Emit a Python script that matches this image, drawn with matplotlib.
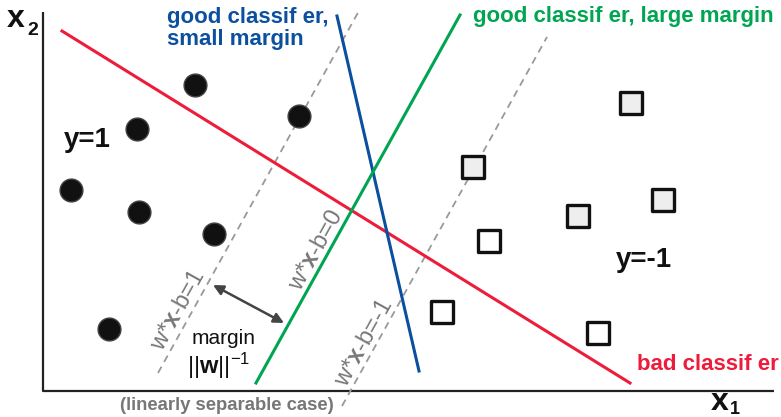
import matplotlib
matplotlib.use("Agg")
import matplotlib.pyplot as plt

plt.rcParams['font.family'] = ['Liberation Sans', 'DejaVu Sans']
plt.rcParams['mathtext.fontset'] = 'custom'
plt.rcParams['mathtext.rm'] = 'Liberation Sans'
plt.rcParams['mathtext.bf'] = 'Liberation Sans:bold'
plt.rcParams['mathtext.it'] = 'Liberation Sans:italic'

# ---- data (diagram coordinates, pixel-like units, y downward) ----
circles_x = [195, 137, 299, 71, 139, 214, 109]
circles_y = [85, 129, 116, 190, 212, 234, 329]

squares_gray_x = [473, 631, 663, 578]
squares_gray_y = [167, 103, 200, 216]
squares_white_x = [489, 442, 598]
squares_white_y = [241, 312, 333]

red_x, red_y = [62, 630], [31, 383]
blue_x, blue_y = [337, 419], [16, 371]
green_x, green_y = [256, 460], [383, 15]
dash1_x, dash1_y = [158, 360], [373, 9]
dash2_x, dash2_y = [342, 547], [406, 37]
arrow_start = (213, 285)
arrow_end = (284, 323)
axis_x = [43, 43, 774]
axis_y = [12, 391, 391]

RED = '#ee1c3b'
BLUE = '#0b4f9f'
GREEN = '#00a551'
GRAY = '#777777'

fig = plt.figure(figsize=(7.81, 4.17), dpi=100)
ax = fig.add_axes([0, 0, 1, 1])
ax.set_xlim(0, 781)
ax.set_ylim(417, 0)
ax.axis('off')

# axes
ax.plot(axis_x, axis_y, color='#222222', lw=1.6, solid_capstyle='butt')

# dashed margin lines
ax.plot(dash1_x, dash1_y, color='#999999', lw=1.3, ls=(0, (4, 3)))
ax.plot(dash2_x, dash2_y, color='#999999', lw=1.3, ls=(0, (4, 3)))

# classifiers
ax.plot(red_x, red_y, color=RED, lw=2.2)
ax.plot(blue_x, blue_y, color=BLUE, lw=2.2)
ax.plot(green_x, green_y, color=GREEN, lw=2.2)

# points
ax.scatter(circles_x, circles_y, s=270, c='#111111', edgecolors='#444444', linewidths=1.0, zorder=5)
ax.scatter(squares_gray_x, squares_gray_y, s=260, marker='s', c='#eeeeee', edgecolors='#111111', linewidths=2.4, zorder=5)
ax.scatter(squares_white_x, squares_white_y, s=260, marker='s', c='white', edgecolors='#111111', linewidths=2.4, zorder=5)

# margin arrow
ax.annotate('', xy=arrow_end, xytext=arrow_start,
            arrowprops=dict(arrowstyle='<|-|>', color='#444444', lw=1.8,
                            mutation_scale=15, shrinkA=0, shrinkB=0))

# axis labels
ax.text(7, 27, 'x', fontsize=23, fontweight='bold', color='#111111', va='baseline')
ax.text(27, 35, '2', fontsize=14, fontweight='bold', color='#111111', va='baseline')
ax.text(711, 410, 'x', fontsize=23, fontweight='bold', color='#111111', va='baseline')
ax.text(730, 414, '1', fontsize=13, fontweight='bold', color='#111111', va='baseline')

ax.text(64, 147, 'y=1', fontsize=20, fontweight='bold', color='#111111', va='baseline')
ax.text(616, 267, 'y=-1', fontsize=20, fontweight='bold', color='#111111', va='baseline')

ax.text(167, 23, 'good classif er,', fontsize=16, fontweight='bold', color=BLUE, va='baseline')
ax.text(167, 45, 'small margin', fontsize=16, fontweight='bold', color=BLUE, va='baseline')
ax.text(473, 22, 'good classif er, large margin', fontsize=16, fontweight='bold', color=GREEN, va='baseline')
ax.text(637, 370, 'bad classif er', fontsize=16, fontweight='bold', color=RED, va='baseline')

ax.text(224, 338, 'margin', fontsize=15, color='#111111', ha='center', va='center')
ax.text(219, 366, r'$||\mathbf{w}||^{-1}$', fontsize=17, color='#111111', ha='center', va='center')

ax.text(227, 406, '(linearly separable case)', fontsize=13.3, fontweight='bold', color=GRAY,
        ha='center', va='center')

ax.text(178, 311, r'w*$\mathbf{x}$-b=1', fontsize=17, color=GRAY, rotation=61,
        ha='center', va='center', rotation_mode='anchor')
ax.text(316, 250, r'w*$\mathbf{x}$-b=0', fontsize=17, color=GRAY, rotation=61,
        ha='center', va='center', rotation_mode='anchor')
ax.text(364, 343, r'w*$\mathbf{x}$-b=-1', fontsize=17, color=GRAY, rotation=61,
        ha='center', va='center', rotation_mode='anchor')

fig.savefig('out.png', dpi=100)
